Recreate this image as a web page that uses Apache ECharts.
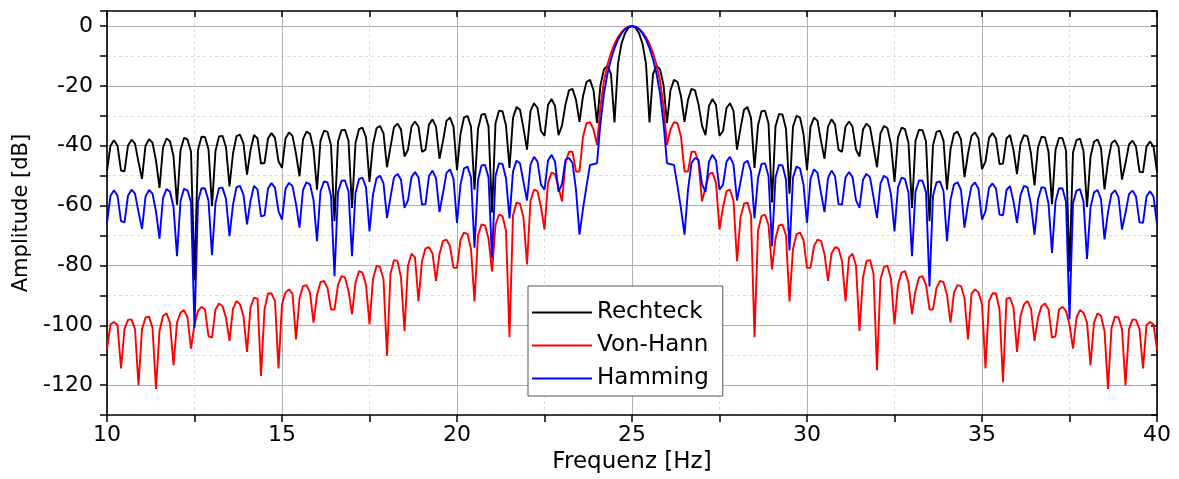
<!DOCTYPE html>
<html>
<head>
<meta charset="utf-8">
<title>Fensterfunktionen</title>
<script src="https://cdn.jsdelivr.net/npm/echarts@6/dist/echarts.min.js"></script>
<style>
  html, body { margin: 0; padding: 0; background: #fff; }
  #chart { width: 1179px; height: 479px; }
</style>
</head>
<body>
<div id="chart"></div>
<script>
// frequency grid: 10 .. 40 Hz in 0.1 Hz steps
var fStart = 10, fStep = 0.1;

// amplitude in dB, one value per 0.1 Hz
var rechteck = [
  -48.4,-40.0,-38.2,-40.0,-48.3,-48.6,-40.0,-38.0,-39.3,-45.5,
  -51.1,-40.0,-37.8,-39.0,-45.0,-54.1,-40.6,-37.6,-38.5,-43.5,
  -59.7,-41.5,-37.4,-37.9,-42.0,-85.0,-41.4,-37.0,-37.1,-41.2,
  -60.2,-41.8,-36.9,-36.7,-40.5,-53.6,-42.6,-36.8,-36.3,-39.3,
  -49.7,-41.5,-36.4,-37.6,-46.0,-45.8,-37.6,-35.8,-37.4,-45.2,
  -47.4,-37.6,-35.6,-36.7,-42.7,-50.2,-37.9,-35.3,-36.0,-41.2,
  -54.7,-38.3,-35.0,-35.4,-39.8,-65.2,-38.6,-34.8,-34.7,-38.4,
  -60.8,-39.1,-34.5,-34.0,-37.2,-52.1,-39.6,-34.2,-33.4,-35.9,
  -47.2,-40.4,-33.8,-32.6,-34.6,-43.6,-41.3,-33.6,-31.9,-33.7,
  -42.1,-41.3,-32.9,-31.2,-33.6,-44.4,-38.4,-31.7,-30.6,-33.7,
  -48.2,-36.0,-30.6,-30.0,-33.6,-54.7,-34.4,-29.6,-29.4,-33.6,
  -62.3,-32.5,-28.3,-28.5,-33.3,-47.4,-30.7,-27.1,-28.0,-34.2,
  -41.3,-28.4,-25.8,-27.4,-35.1,-36.7,-26.4,-24.4,-26.7,-36.5,
  -33.3,-26.2,-21.5,-21.0,-24.7,-32.0,-23.5,-18.7,-18.0,-21.4,
  -32.4,-19.7,-14.4,-13.3,-16.1,-32.2,-12.6,-5.9,-2.4,-0.6,
  0,
  -0.6,-2.4,-5.9,-12.6,-32.2,-16.1,-13.3,-14.4,-19.7,-32.4,
  -21.4,-18.0,-18.7,-23.5,-32.0,-24.7,-21.0,-21.5,-26.2,-33.3,
  -36.5,-26.7,-24.4,-26.4,-36.7,-35.1,-27.4,-25.8,-28.4,-41.3,
  -34.2,-28.0,-27.1,-30.7,-47.4,-33.3,-28.5,-28.3,-32.5,-59.0,
  -33.6,-29.4,-29.6,-34.4,-56.0,-33.6,-30.0,-30.6,-36.0,-48.2,
  -33.7,-30.6,-31.7,-38.4,-44.4,-33.6,-31.2,-32.9,-41.3,-42.1,
  -33.7,-31.9,-33.6,-41.3,-43.6,-34.6,-32.6,-33.8,-40.4,-47.2,
  -35.9,-33.4,-34.2,-39.6,-52.1,-37.2,-34.0,-34.5,-39.1,-60.8,
  -38.4,-34.7,-34.8,-38.6,-65.2,-39.8,-35.4,-35.0,-38.3,-54.7,
  -41.2,-36.0,-35.3,-37.9,-50.5,-42.7,-36.7,-35.6,-37.6,-47.8,
  -45.2,-37.4,-35.8,-37.6,-46.1,-46.0,-37.6,-36.4,-41.5,-49.5,
  -39.3,-36.5,-36.9,-42.6,-53.3,-40.6,-37.0,-37.2,-42.0,-59.5,
  -41.4,-37.4,-37.5,-41.6,-82.0,-42.3,-38.1,-37.6,-41.8,-60.5,
  -43.7,-38.7,-37.9,-40.8,-54.6,-45.3,-39.2,-38.2,-40.4,-51.3,
  -45.8,-39.6,-38.3,-40.3,-48.7,-48.9,-40.3,-38.6,-40.3,-48.7
];

var vonHann = [
  -108.0,-99.7,-98.9,-99.9,-114.4,-101.3,-98.2,-98.0,-101.3,-120.0,
  -101.3,-97.4,-97.1,-100.8,-121.3,-101.9,-96.9,-96.0,-99.1,-113.3,
  -99.1,-95.8,-94.9,-97.4,-107.8,-99.7,-95.2,-93.8,-94.7,-103.6,
  -104.1,-94.7,-92.7,-93.6,-97.5,-105.2,-94.4,-91.9,-93.0,-97.0,
  -108.9,-94.1,-90.8,-91.1,-116.9,-94.7,-89.4,-89.3,-91.9,-114.4,
  -93.0,-89.0,-88.0,-89.5,-104.7,-91.0,-86.9,-86.6,-89.0,-99.1,
  -89.8,-85.6,-85.2,-87.5,-94.7,-94.7,-86.5,-83.6,-84.0,-88.5,
  -96.3,-85.8,-81.9,-82.4,-86.5,-99.7,-84.5,-80.2,-80.5,-84.6,
  -110.2,-82.8,-78.2,-78.5,-84.0,-101.9,-80.0,-76.1,-77.3,-91.9,
  -78.5,-74.3,-73.9,-76.0,-85.2,-76.2,-71.8,-71.4,-73.5,-80.8,
  -80.8,-71.5,-69.0,-69.5,-74.5,-92.0,-70.0,-66.3,-66.6,-71.0,
  -82.0,-66.5,-63.0,-63.5,-68.5,-104.0,-63.3,-59.0,-59.4,-64.0,
  -79.7,-58.4,-54.7,-55.2,-60.5,-68.0,-52.5,-49.0,-49.5,-54.0,
  -58.6,-45.5,-42.0,-42.0,-48.6,-48.6,-37.0,-32.5,-32.1,-34.5,
  -39.7,-26.7,-18.3,-12.9,-9.0,-6.0,-3.7,-2.1,-0.9,-0.2,
  0,
  -0.2,-0.9,-2.1,-3.7,-6.0,-9.0,-12.9,-18.3,-26.7,-39.7,
  -34.5,-32.1,-32.5,-37.0,-48.6,-48.6,-42.0,-42.0,-45.5,-58.6,
  -54.0,-49.5,-49.0,-52.5,-68.0,-60.5,-55.2,-54.7,-58.4,-78.6,
  -64.0,-59.4,-59.0,-63.3,-104.0,-68.5,-63.5,-63.0,-66.5,-81.3,
  -71.0,-66.6,-66.3,-70.0,-92.0,-74.5,-69.5,-69.0,-71.5,-80.8,
  -80.8,-73.5,-71.4,-71.8,-76.2,-85.2,-76.0,-73.9,-74.3,-78.5,
  -91.9,-77.3,-76.1,-80.0,-101.9,-84.0,-78.5,-78.2,-82.8,-115.0,
  -84.6,-80.5,-80.2,-84.5,-99.7,-86.5,-82.4,-81.9,-85.8,-96.3,
  -88.5,-84.0,-83.6,-86.5,-94.7,-94.7,-87.5,-85.2,-85.6,-89.8,
  -99.1,-89.0,-86.6,-86.9,-91.0,-104.7,-89.5,-88.0,-89.0,-93.0,
  -114.4,-91.9,-89.3,-89.4,-94.7,-119.0,-91.1,-90.8,-94.1,-108.9,
  -97.0,-93.0,-91.9,-94.4,-105.2,-97.5,-93.6,-92.7,-94.7,-104.1,
  -103.6,-94.7,-93.8,-95.2,-99.7,-107.8,-97.4,-94.9,-95.8,-99.1,
  -113.3,-99.1,-96.0,-96.9,-101.9,-121.3,-100.8,-97.1,-97.4,-101.3,
  -120.0,-101.3,-98.0,-98.2,-101.3,-114.4,-99.9,-98.9,-99.7,-108.0
];

var hamming = [
  -65.8,-56.7,-54.9,-56.7,-65.2,-65.6,-56.7,-54.7,-56.0,-62.2,
  -67.8,-57.0,-54.8,-56.0,-62.0,-71.1,-57.5,-54.5,-55.4,-60.4,
  -76.9,-58.5,-54.4,-54.9,-59.0,-100.8,-58.6,-54.2,-54.3,-58.4,
  -76.6,-59.1,-54.2,-54.0,-57.8,-70.2,-59.7,-53.9,-53.4,-56.4,
  -66.3,-58.5,-53.4,-54.6,-63.6,-63.3,-54.3,-52.5,-54.1,-61.9,
  -64.7,-54.4,-52.4,-53.5,-59.5,-67.4,-54.8,-52.2,-52.9,-58.1,
  -71.9,-55.2,-51.9,-52.3,-56.7,-83.6,-55.5,-51.7,-51.6,-55.3,
  -76.9,-55.8,-51.2,-50.7,-53.9,-68.6,-56.3,-50.9,-50.0,-52.6,
  -64.1,-57.2,-50.6,-49.4,-51.4,-60.8,-58.2,-50.5,-48.8,-50.6,
  -59.7,-59.5,-50.1,-48.3,-50.8,-62.2,-55.8,-49.1,-47.9,-51.1,
  -65.8,-53.0,-47.6,-47.0,-50.6,-74.1,-51.4,-46.6,-46.4,-50.6,
  -77.5,-50.1,-45.9,-46.1,-50.9,-64.3,-48.6,-45.0,-45.9,-52.1,
  -58.3,-46.3,-43.7,-45.3,-53.0,-54.7,-45.0,-43.0,-45.3,-55.4,
  -52.8,-44.7,-44.1,-45.8,-54.7,-69.7,-61.0,-53.5,-46.4,-46.2,
  -45.8,-32.4,-22.5,-15.9,-11.1,-7.4,-4.6,-2.5,-1.1,-0.3,
  0,
  -0.3,-1.1,-2.5,-4.6,-7.4,-11.1,-15.9,-22.5,-32.4,-45.8,
  -46.2,-46.4,-53.5,-61.0,-69.7,-54.7,-45.8,-44.1,-44.7,-52.8,
  -55.4,-45.3,-43.0,-45.0,-54.7,-53.0,-45.3,-43.7,-46.3,-58.3,
  -52.1,-45.9,-45.0,-48.6,-64.3,-50.9,-46.1,-45.9,-50.1,-73.6,
  -50.6,-46.4,-46.6,-51.4,-75.0,-50.6,-47.0,-47.6,-53.0,-65.8,
  -51.1,-47.9,-49.1,-55.8,-62.2,-50.8,-48.3,-50.1,-59.5,-59.7,
  -50.6,-48.8,-50.5,-58.2,-60.8,-51.4,-49.4,-50.6,-57.2,-64.1,
  -52.6,-50.0,-50.9,-56.3,-68.6,-53.9,-50.7,-51.2,-55.8,-76.9,
  -55.3,-51.6,-51.7,-55.5,-87.0,-56.7,-52.3,-51.9,-55.2,-71.9,
  -58.1,-52.9,-52.2,-54.8,-67.4,-59.5,-53.5,-52.3,-54.4,-64.7,
  -61.9,-54.1,-52.6,-54.3,-63.0,-63.3,-54.8,-53.5,-58.6,-65.8,
  -56.5,-53.4,-53.9,-59.8,-69.7,-58.0,-53.9,-54.1,-59.3,-75.8,
  -58.6,-54.2,-54.3,-58.7,-98.0,-59.2,-55.0,-54.5,-58.7,-77.8,
  -60.6,-55.6,-54.8,-57.8,-71.3,-62.2,-56.1,-54.9,-57.2,-68.0,
  -62.4,-56.2,-55.0,-57.0,-65.6,-65.8,-57.0,-55.2,-57.0,-66.3
];

var seriesNames = ['Rechteck', 'Von-Hann', 'Hamming'];
var seriesColors = ['#000000', '#ff0000', '#0000ff'];

var font = 'DejaVu Sans';
var majorGrid = '#b0b0b0';
var minorGrid = '#dcdcdc';
var clear = 'rgba(0,0,0,0)';

function pairs(values) {
  return values.map(function (v, i) {
    return [+(fStart + i * fStep).toFixed(1), v];
  });
}

var chart = echarts.init(document.getElementById('chart'), null, { renderer: 'canvas' });

var axisLine = { show: true, onZero: false, lineStyle: { color: '#000', width: 1.6 } };

var option = {
  animation: false,
  backgroundColor: '#fff',
  grid: { left: 107, right: 22, top: 11, bottom: 63 },
  legend: {
    orient: 'vertical',
    left: 528,
    top: 286,
    backgroundColor: '#fff',
    borderColor: '#555',
    borderWidth: 1,
    padding: [13, 14, 4, 4],
    icon: 'rect',
    itemWidth: 60,
    itemHeight: 2,
    itemGap: 6,
    z: 10,
    textStyle: { fontFamily: font, fontSize: 23, color: '#000', lineHeight: 27 },
    data: seriesNames
  },
  xAxis: [
    {
      type: 'value', min: 10, max: 40, interval: 2.5, position: 'bottom',
      axisLine: axisLine,
      axisTick: { show: true, inside: false, length: 7, lineStyle: { color: '#000', width: 1.5 } },
      axisLabel: {
        margin: 9, fontFamily: font, fontSize: 22, color: '#000',
        formatter: function (v) { return v % 5 === 0 ? String(v) : ''; }
      },
      splitLine: { show: true, lineStyle: { color: [clear, minorGrid], type: [3, 3], width: 1 } },
      name: 'Frequenz [Hz]', nameLocation: 'middle', nameGap: 33,
      nameTextStyle: { fontFamily: font, fontSize: 23, color: '#000' }
    },
    {
      type: 'value', min: 10, max: 40, interval: 2.5, position: 'top',
      axisLine: axisLine,
      axisTick: { show: true, inside: true, length: 6, lineStyle: { color: '#000', width: 1.5 } },
      axisLabel: { show: false },
      splitLine: { show: true, lineStyle: { color: [majorGrid, clear], width: 1 } }
    }
  ],
  yAxis: [
    {
      type: 'value', min: -130, max: 5, interval: 10, position: 'left',
      axisLine: axisLine,
      axisTick: { show: true, inside: false, length: 7, lineStyle: { color: '#000', width: 1.5 } },
      axisLabel: {
        margin: 14, fontFamily: font, fontSize: 22, color: '#000',
        formatter: function (v) { return v % 20 === 0 ? String(v) : ''; }
      },
      splitLine: { show: true, lineStyle: { color: [minorGrid, clear], type: [3, 3], width: 1 } },
      name: 'Amplitude [dB]', nameLocation: 'middle', nameGap: 72,
      nameTextStyle: { fontFamily: font, fontSize: 21, color: '#000' }
    },
    {
      type: 'value', min: -130, max: 5, interval: 10, position: 'right',
      axisLine: axisLine,
      axisTick: { show: true, inside: true, length: 6, lineStyle: { color: '#000', width: 1.5 } },
      axisLabel: { show: false },
      splitLine: { show: true, lineStyle: { color: [clear, majorGrid], width: 1 } }
    }
  ],
  series: [rechteck, vonHann, hamming].map(function (values, k) {
    return {
      name: seriesNames[k],
      type: 'line',
      xAxisIndex: 0,
      yAxisIndex: 0,
      symbol: 'none',
      showSymbol: false,
      smooth: false,
      z: 2 + k,
      lineStyle: { color: seriesColors[k], width: 1.9 },
      itemStyle: { color: seriesColors[k] },
      data: pairs(values)
    };
  })
};

chart.setOption(option);
window.onresize = function () { chart.resize(); };
</script>
</body>
</html>
